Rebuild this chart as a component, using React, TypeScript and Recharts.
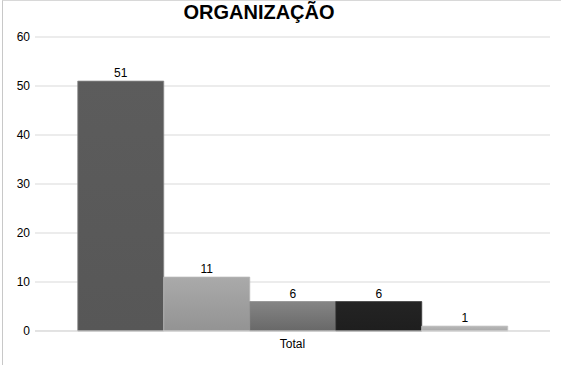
import React from 'react';
import { BarChart, Bar, XAxis, YAxis, CartesianGrid, LabelList } from 'recharts';

const categories = ['Total'];
const seriesKeys = ['s1', 's2', 's3', 's4', 's5'];
const seriesValues = [51, 11, 6, 6, 1];
const yTicks = [0, 10, 20, 30, 40, 50, 60];
const title = 'ORGANIZAÇÃO';

const fills = ['url(#g1)', 'url(#g2)', 'url(#g3)', 'url(#g4)', 'url(#g5)'];
const strokes = ['#8a8a8a', '#b8b8b8', '#8a8a8a', '#3a3a3a', '#c4c4c4'];

const data = categories.map((c) => {
  const row: Record<string, string | number> = { name: c };
  seriesKeys.forEach((k, i) => {
    row[k] = seriesValues[i];
  });
  return row;
});

const font = 'Arial, "Liberation Sans", sans-serif';

export default function App() {
  return (
    <div style={{ position: 'absolute', left: 0, top: 0, width: 561, height: 365, background: '#fff', fontFamily: font }}>
      <div style={{ position: 'absolute', left: 2, top: 0, width: 559, height: 365, borderLeft: '1px solid #c8c8c8', borderTop: '1px solid #d8d8d8', boxSizing: 'border-box' }} />
      <div style={{ position: 'absolute', left: 0, top: 2, width: 518, textAlign: 'center', fontSize: 20, lineHeight: '20px', fontWeight: 'bold', color: '#000' }}>
        {title}
      </div>
      <BarChart
        width={561}
        height={365}
        data={data}
        margin={{ top: 37, right: 11, bottom: 14, left: 0 }}
        barCategoryGap="8.3%"
        barGap={0}
      >
        <defs>
          <linearGradient id="g1" x1="0" y1="0" x2="0" y2="1">
            <stop offset="0%" stopColor="#5c5c5c" />
            <stop offset="100%" stopColor="#575757" />
          </linearGradient>
          <linearGradient id="g2" x1="0" y1="0" x2="0" y2="1">
            <stop offset="0%" stopColor="#aaaaaa" />
            <stop offset="100%" stopColor="#939393" />
          </linearGradient>
          <linearGradient id="g3" x1="0" y1="0" x2="0" y2="1">
            <stop offset="0%" stopColor="#858585" />
            <stop offset="100%" stopColor="#686868" />
          </linearGradient>
          <linearGradient id="g4" x1="0" y1="0" x2="0" y2="1">
            <stop offset="0%" stopColor="#242424" />
            <stop offset="100%" stopColor="#1e1e1e" />
          </linearGradient>
          <linearGradient id="g5" x1="0" y1="0" x2="0" y2="1">
            <stop offset="0%" stopColor="#b8b8b8" />
            <stop offset="100%" stopColor="#a8a8a8" />
          </linearGradient>
        </defs>
        <CartesianGrid vertical={false} stroke="#d9d9d9" />
        <XAxis
          dataKey="name"
          height={20}
          axisLine={{ stroke: '#d9d9d9' }}
          tickLine={false}
          tick={{ fill: '#000', fontSize: 12, fontFamily: font }}
        />
        <YAxis
          width={35}
          domain={[0, 60]}
          ticks={yTicks}
          axisLine={false}
          tickLine={false}
          tickSize={3}
          tick={{ fill: '#000', fontSize: 12, fontFamily: font }}
        />
        {seriesKeys.map((k, i) => (
          <Bar key={k} dataKey={k} fill={fills[i]} stroke={strokes[i]} strokeWidth={0.8} isAnimationActive={false}>
            <LabelList dataKey={k} position="top" offset={4} fill="#000" fontSize={12} fontFamily={font} />
          </Bar>
        ))}
      </BarChart>
    </div>
  );
}
